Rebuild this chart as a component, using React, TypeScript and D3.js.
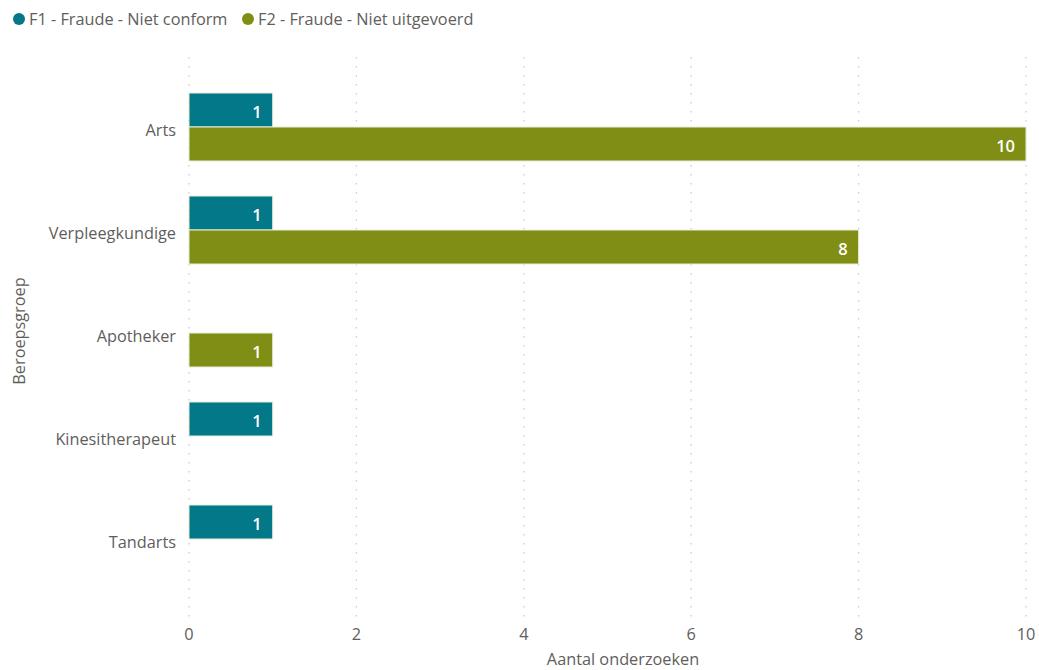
import React from "react";
import * as d3 from "d3";

const categories = ["Arts", "Verpleegkundige", "Apotheker", "Kinesitherapeut", "Tandarts"];
const seriesNames = ["F1 - Fraude - Niet conform", "F2 - Fraude - Niet uitgevoerd"];
const f1Values: (number | null)[] = [1, 1, null, 1, 1];
const f2Values: (number | null)[] = [10, 8, 1, null, null];
const xTicks = [0, 2, 4, 6, 8, 10];
const colors = ["#037889", "#818E16"];

const W = 1039;
const H = 670;
const FONT = "'Open Sans', 'Segoe UI', sans-serif";
const FS = 16.3;

export default function App() {
  const x = d3.scaleLinear().domain([0, 10]).range([189, 1026]);
  const y = d3.scaleBand<string>().domain(categories).range([75.5, 590.5]).padding(0);
  const barH = 34;
  const series = [f1Values, f2Values];

  return (
    <svg width={W} height={H} style={{ position: "absolute", left: 0, top: 0, background: "#fff" }}>
      {/* legend */}
      <g fontFamily={FONT} fontSize={FS} fill="#605E5C">
        <circle cx={19} cy={19} r={6} fill={colors[0]} />
        <text x={29} y={19} dominantBaseline="central">{seriesNames[0]}</text>
        <circle cx={248} cy={19} r={6} fill={colors[1]} />
        <text x={258} y={19} dominantBaseline="central">{seriesNames[1]}</text>
      </g>
      {/* gridlines */}
      {xTicks.map((t) => (
        <line key={t} x1={x(t)} x2={x(t)} y1={57} y2={618} stroke="#C8C8C8" strokeWidth={1.2} strokeDasharray="1.5,7.5" />
      ))}
      {/* bars */}
      {categories.map((c) => {
        const center = (y(c) as number) + y.bandwidth() / 2;
        return series.map((vals, si) => {
          const v = vals[categories.indexOf(c)];
          if (v == null) return null;
          const top = si === 0 ? center - barH : center;
          return (
            <g key={c + si}>
              <rect x={x(0)} y={top} width={x(v) - x(0)} height={barH} fill={colors[si]} stroke="#E8EDD5" strokeWidth={1} />
              <text x={x(v) - 11} y={top + barH / 2 + 1} textAnchor="end" dominantBaseline="central" fill="#fff" fontFamily={FONT} fontSize={16.5} fontWeight={600}>
                {v}
              </text>
            </g>
          );
        });
      })}
      {/* category labels */}
      {categories.map((c) => (
        <text key={c} x={176} y={(y(c) as number) + y.bandwidth() / 2 + 3} textAnchor="end" dominantBaseline="central" fontFamily={FONT} fontSize={FS} fill="#605E5C">
          {c}
        </text>
      ))}
      {/* x tick labels */}
      {xTicks.map((t) => (
        <text key={t} x={x(t)} y={634} textAnchor="middle" dominantBaseline="central" fontFamily={FONT} fontSize={FS} fill="#605E5C">
          {t}
        </text>
      ))}
      <text x={623} y={659} textAnchor="middle" dominantBaseline="central" fontFamily={FONT} fontSize={FS} fill="#605E5C">
        Aantal onderzoeken
      </text>
      <text transform="translate(19,331) rotate(-90)" textAnchor="middle" dominantBaseline="central" fontFamily={FONT} fontSize={FS} fill="#605E5C">
        Beroepsgroep
      </text>
    </svg>
  );
}
